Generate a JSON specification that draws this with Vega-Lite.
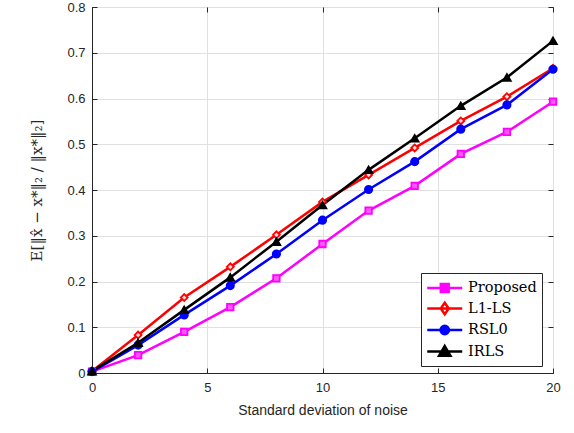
{
  "$schema": "https://vega.github.io/schema/vega-lite/v6.json",
  "width": 461,
  "height": 366,
  "autosize": {"type": "none"},
  "padding": {"left": 92, "top": 7, "right": 21, "bottom": 60},
  "background": "white",
  "config": {
    "view": {"stroke": "#262626", "strokeWidth": 1},
    "axis": {
      "labelFont": "Liberation Sans",
      "labelFontSize": 13,
      "labelColor": "#262626",
      "titleFont": "Liberation Sans",
      "titleFontSize": 14,
      "titleFontWeight": "normal",
      "titleColor": "#262626",
      "domainColor": "#262626",
      "tickColor": "#262626",
      "tickSize": -5,
      "labelFlush": false,
      "gridColor": "#e0e0e0",
      "gridWidth": 1
    }
  },
  "data": {
    "values": [
      {"sigma": 0, "method": "Proposed", "v": 0.003},
      {"sigma": 2, "method": "Proposed", "v": 0.039},
      {"sigma": 4, "method": "Proposed", "v": 0.090},
      {"sigma": 6, "method": "Proposed", "v": 0.144},
      {"sigma": 8, "method": "Proposed", "v": 0.207},
      {"sigma": 10, "method": "Proposed", "v": 0.282},
      {"sigma": 12, "method": "Proposed", "v": 0.355},
      {"sigma": 14, "method": "Proposed", "v": 0.409},
      {"sigma": 16, "method": "Proposed", "v": 0.479},
      {"sigma": 18, "method": "Proposed", "v": 0.527},
      {"sigma": 20, "method": "Proposed", "v": 0.593},
      {"sigma": 0, "method": "L1-LS", "v": 0.004},
      {"sigma": 2, "method": "L1-LS", "v": 0.083},
      {"sigma": 4, "method": "L1-LS", "v": 0.165},
      {"sigma": 6, "method": "L1-LS", "v": 0.232},
      {"sigma": 8, "method": "L1-LS", "v": 0.302},
      {"sigma": 10, "method": "L1-LS", "v": 0.374},
      {"sigma": 12, "method": "L1-LS", "v": 0.433},
      {"sigma": 14, "method": "L1-LS", "v": 0.492},
      {"sigma": 16, "method": "L1-LS", "v": 0.551},
      {"sigma": 18, "method": "L1-LS", "v": 0.604},
      {"sigma": 20, "method": "L1-LS", "v": 0.666},
      {"sigma": 0, "method": "RSL0", "v": 0.003},
      {"sigma": 2, "method": "RSL0", "v": 0.061},
      {"sigma": 4, "method": "RSL0", "v": 0.127},
      {"sigma": 6, "method": "RSL0", "v": 0.191},
      {"sigma": 8, "method": "RSL0", "v": 0.260},
      {"sigma": 10, "method": "RSL0", "v": 0.334},
      {"sigma": 12, "method": "RSL0", "v": 0.401},
      {"sigma": 14, "method": "RSL0", "v": 0.462},
      {"sigma": 16, "method": "RSL0", "v": 0.533},
      {"sigma": 18, "method": "RSL0", "v": 0.586},
      {"sigma": 20, "method": "RSL0", "v": 0.664},
      {"sigma": 0, "method": "IRLS", "v": 0.004},
      {"sigma": 2, "method": "IRLS", "v": 0.066},
      {"sigma": 4, "method": "IRLS", "v": 0.138},
      {"sigma": 6, "method": "IRLS", "v": 0.209},
      {"sigma": 8, "method": "IRLS", "v": 0.287},
      {"sigma": 10, "method": "IRLS", "v": 0.367},
      {"sigma": 12, "method": "IRLS", "v": 0.444},
      {"sigma": 14, "method": "IRLS", "v": 0.513},
      {"sigma": 16, "method": "IRLS", "v": 0.584},
      {"sigma": 18, "method": "IRLS", "v": 0.646},
      {"sigma": 20, "method": "IRLS", "v": 0.726}
    ]
  },
  "layer": [
    {
      "mark": {"type": "line", "strokeWidth": 2.5},
      "encoding": {
        "x": {
          "field": "sigma", "type": "quantitative",
          "scale": {"domain": [0, 20], "nice": false},
          "axis": {"title": "Standard deviation of noise", "values": [0, 5, 10, 15, 20], "labelPadding": 13, "titlePadding": 9, "grid": true}
        },
        "y": {
          "field": "v", "type": "quantitative",
          "scale": {"domain": [0, 0.8], "nice": false},
          "axis": {
            "title": "E[‖x̂ − x*‖₂ / ‖x*‖₂]",
            "titleFont": "DejaVu Serif",
            "titleFontSize": 15,
            "values": [0, 0.1, 0.2, 0.3, 0.4, 0.5, 0.6, 0.7, 0.8],
            "format": ".1~f",
            "labelPadding": 12,
            "titlePadding": 22,
            "grid": true
          }
        },
        "color": {
          "field": "method", "type": "nominal",
          "scale": {"domain": ["Proposed", "L1-LS", "RSL0", "IRLS"], "range": ["#ff00ff", "#ff0000", "#0000ff", "#000000"]},
          "legend": null
        }
      }
    },
    {
      "mark": {"type": "point", "strokeWidth": 1.8, "opacity": 1, "filled": false},
      "encoding": {
        "x": {"field": "sigma", "type": "quantitative", "axis": null},
        "y": {"field": "v", "type": "quantitative", "axis": null},
        "shape": {
          "field": "method", "type": "nominal",
          "scale": {"domain": ["Proposed", "L1-LS", "RSL0", "IRLS"], "range": ["square", "diamond", "circle", "triangle-up"]},
          "legend": null
        },
        "stroke": {
          "field": "method", "type": "nominal",
          "scale": {"domain": ["Proposed", "L1-LS", "RSL0", "IRLS"], "range": ["#ff00ff", "#ff0000", "#0000ff", "#000000"]},
          "legend": null
        },
        "fill": {
          "field": "method", "type": "nominal",
          "scale": {"domain": ["Proposed", "L1-LS", "RSL0", "IRLS"], "range": ["#ff55ff", "#ffdddd", "#0000ff", "#000000"]},
          "legend": null
        },
        "size": {
          "field": "method", "type": "nominal",
          "scale": {"domain": ["Proposed", "L1-LS", "RSL0", "IRLS"], "range": [42, 60, 55, 100]},
          "legend": null
        }
      }
    },
    {
      "transform": [{"filter": "datum.v < -1"}],
      "mark": {"type": "point", "filled": false, "strokeWidth": 2.5, "opacity": 1},
      "encoding": {
        "x": {
          "field": "sigma", "type": "quantitative",
          "axis": {"orient": "top", "title": null, "labels": false, "grid": false, "domain": false, "values": [0, 5, 10, 15, 20]}
        },
        "y": {
          "field": "v", "type": "quantitative",
          "axis": {"orient": "right", "title": null, "labels": false, "grid": false, "domain": false, "values": [0, 0.1, 0.2, 0.3, 0.4, 0.5, 0.6, 0.7, 0.8]}
        },
        "shape": {
          "field": "method", "type": "nominal",
          "scale": {"domain": ["Proposed", "L1-LS", "RSL0", "IRLS"], "range": [
            "M-1,0H3M0.55,-0.45H1.45V0.45H0.55Z",
            "M-1,0H3M1,-0.65L1.45,0L1,0.65L0.55,0Z",
            "M-1,0H3M1.48,0A0.48,0.48 0 1,1 0.52,0A0.48,0.48 0 1,1 1.48,0Z",
            "M-1,0H3M1,-0.62L1.65,0.48H0.35Z"
          ]},
          "legend": {
            "title": null,
            "orient": "none",
            "legendX": 329,
            "legendY": 266,
            "padding": 5,
            "strokeColor": "#262626",
            "fillColor": "white",
            "labelFont": "DejaVu Serif",
            "labelFontSize": 14.5,
            "labelColor": "#000000",
            "symbolSize": 306,
            "symbolStrokeWidth": 2.5,
            "rowPadding": 0.5,
            "labelOffset": 22
          }
        },
        "stroke": {
          "field": "method", "type": "nominal",
          "scale": {"domain": ["Proposed", "L1-LS", "RSL0", "IRLS"], "range": ["#ff00ff", "#ff0000", "#0000ff", "#000000"]}
        },
        "fill": {
          "field": "method", "type": "nominal",
          "scale": {"domain": ["Proposed", "L1-LS", "RSL0", "IRLS"], "range": ["#ff00ff", "#ffffff", "#0000ff", "#000000"]}
        }
      }
    }
  ],
  "resolve": {
    "scale": {"shape": "independent", "fill": "independent", "stroke": "independent"},
    "axis": {"x": "independent", "y": "independent"}
  }
}
